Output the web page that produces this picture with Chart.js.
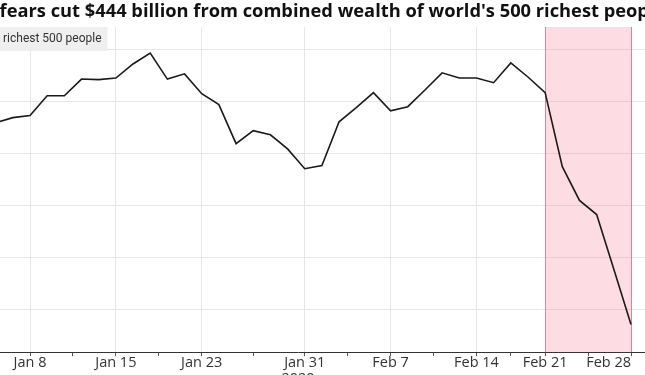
<!DOCTYPE html>
<html>
<head>
<meta charset="utf-8">
<script src="https://cdn.jsdelivr.net/npm/chart.js@4.4.1/dist/chart.umd.min.js"></script>
<style>
  html, body { margin: 0; padding: 0; background: #fff; }
  #wrap { position: relative; width: 645px; height: 375px; overflow: hidden; }
  #chart { position: absolute; top: 0; }
</style>
</head>
<body>
<div id="wrap"><canvas id="chart"></canvas></div>
<script>
const titleText = "Virus fears cut $444 billion from combined wealth of world's 500 richest people";
const seriesLabel = "richest 500 people";
const yearLabel = "2020";

// trading days shown (the picture is a crop, so it starts just before Jan 8)
const days = ["Jan 6", "Jan 7", "Jan 8", "Jan 9", "Jan 10", "Jan 13", "Jan 14", "Jan 15", "Jan 16", "Jan 17",
  "Jan 21", "Jan 22", "Jan 23", "Jan 24", "Jan 27", "Jan 28", "Jan 29", "Jan 30", "Jan 31",
  "Feb 3", "Feb 4", "Feb 5", "Feb 6", "Feb 7", "Feb 10", "Feb 11", "Feb 12", "Feb 13", "Feb 14",
  "Feb 18", "Feb 19", "Feb 20", "Feb 21", "Feb 24", "Feb 25", "Feb 26", "Feb 27", "Feb 28"];

// combined net worth, trillions of dollars
const wealth = [5.859, 5.869, 5.873, 5.911, 5.911, 5.943, 5.942, 5.945, 5.972, 5.993,
  5.943, 5.953, 5.915, 5.894, 5.819, 5.844, 5.836, 5.809, 5.771,
  5.777, 5.861, 5.888, 5.917, 5.882, 5.890, 5.922, 5.955, 5.945, 5.945,
  5.936, 5.974, 5.947, 5.917, 5.775, 5.710, 5.683, 5.578, 5.472];

const tickLabels = ["Jan 8", "Jan 15", "Jan 23", "Jan 31", "Feb 7", "Feb 14", "Feb 21", "Feb 28"];
const yGrid = [5.5, 5.6, 5.7, 5.8, 5.9, 6.0];
const yMin = 5.419, yMax = 6.043;

const shadeFrom = "Feb 21";
const shadeTo = "Feb 28";

const FONT = "'Open Sans', sans-serif";
const TITLE_SIZE = 18.3;

// crop frame: where the visible window sits relative to the full chart
const firstTickX = 30, lastPointX = 631, plotRightX = 648, axisWidth = 60;

const m = document.createElement("canvas").getContext("2d");
m.font = "bold " + TITLE_SIZE + "px " + FONT;
const hiddenText = titleText.slice(0, titleText.indexOf("fears"));
const L = Math.round(m.measureText(hiddenText).width);

const tickIdx = tickLabels.map(t => days.indexOf(t));
const i0 = tickIdx[0], iN = days.length - 1;
const k = (lastPointX - firstTickX) / (iN - i0);
const xMin = i0 - (firstTickX + L) / k;
const xMax = iN + (plotRightX - lastPointX) / k;

const labelAt = new Map(tickIdx.map((i, j) => [i, tickLabels[j]]));
// minor ticks halfway between labelled ones
const tickValues = [i0 - 2.5];
tickIdx.forEach((v, j) => {
  tickValues.push(v);
  if (j < tickIdx.length - 1) tickValues.push((v + tickIdx[j + 1]) / 2);
});

const canvas = document.getElementById("chart");
canvas.width = L + plotRightX + axisWidth;
canvas.height = 388;
canvas.style.left = (-L) + "px";

const shade = {
  id: "shade",
  beforeDatasetsDraw(chart) {
    const { ctx, chartArea: a, scales: { x } } = chart;
    const x0 = x.getPixelForValue(days.indexOf(shadeFrom));
    const x1 = x.getPixelForValue(days.indexOf(shadeTo));
    ctx.save();
    ctx.fillStyle = "rgba(247,119,143,0.25)";
    ctx.fillRect(x0, a.top, x1 - x0, a.bottom - a.top);
    ctx.strokeStyle = "#d98596";
    ctx.lineWidth = 1;
    ctx.beginPath();
    [x0, x1].forEach(px => {
      const p = Math.round(px) + 0.5;
      ctx.moveTo(p, a.top);
      ctx.lineTo(p, a.bottom);
    });
    ctx.stroke();
    ctx.restore();
  }
};

const labelBox = {
  id: "labelBox",
  afterDatasetsDraw(chart) {
    const { ctx, chartArea: a } = chart;
    ctx.save();
    ctx.font = "12px Roboto, sans-serif";
    const tx = L + 3;
    const w = ctx.measureText(seriesLabel).width;
    ctx.fillStyle = "#efefef";
    ctx.fillRect(a.left, a.top, tx + w + 6 - a.left, 24);
    ctx.fillStyle = "#333";
    ctx.textBaseline = "middle";
    ctx.fillText(seriesLabel, tx, a.top + 12.5);
    ctx.restore();
  }
};

new Chart(canvas, {
  type: "line",
  data: {
    datasets: [{
      label: seriesLabel,
      data: days.map((d, i) => ({ x: i, y: wealth[i] })),
      borderColor: "#1a1a1a",
      borderWidth: 1.6,
      pointRadius: 0,
      tension: 0,
    }],
  },
  options: {
    responsive: false,
    animation: false,
    layout: { padding: 0 },
    plugins: {
      legend: { display: false },
      tooltip: { enabled: false },
      title: {
        display: true,
        text: titleText,
        align: "start",
        color: "#111",
        font: { family: FONT, size: TITLE_SIZE, weight: "bold" },
        padding: { top: 1.3, bottom: 3.7 },
      },
    },
    scales: {
      x: {
        type: "linear",
        min: xMin,
        max: xMax,
        afterBuildTicks: s => { s.ticks = tickValues.map(v => ({ value: v })); },
        ticks: {
          autoSkip: false,
          maxRotation: 0,
          align: "inner",
          padding: 0,
          color: "#333",
          font: { family: FONT, size: 14.5, lineHeight: 1 },
          callback: v => labelAt.get(v) ?? "",
        },
        grid: {
          color: c => (c.tick && labelAt.has(c.tick.value)) ? "#e6e6e6" : "rgba(0,0,0,0)",
          tickColor: "#555",
          tickLength: 4,
        },
        border: { display: true, color: "#333", width: 1 },
        title: {
          display: true,
          text: yearLabel,
          color: "#333",
          font: { family: FONT, size: 14.5 },
          padding: 0,
        },
      },
      y: {
        position: "right",
        min: yMin,
        max: yMax,
        afterBuildTicks: s => { s.ticks = yGrid.map(v => ({ value: v })); },
        afterFit: s => { s.width = axisWidth; },
        ticks: { display: false },
        grid: { color: "#e6e6e6", drawTicks: false },
        border: { display: false },
      },
    },
  },
  plugins: [shade, labelBox],
});
</script>
</body>
</html>
